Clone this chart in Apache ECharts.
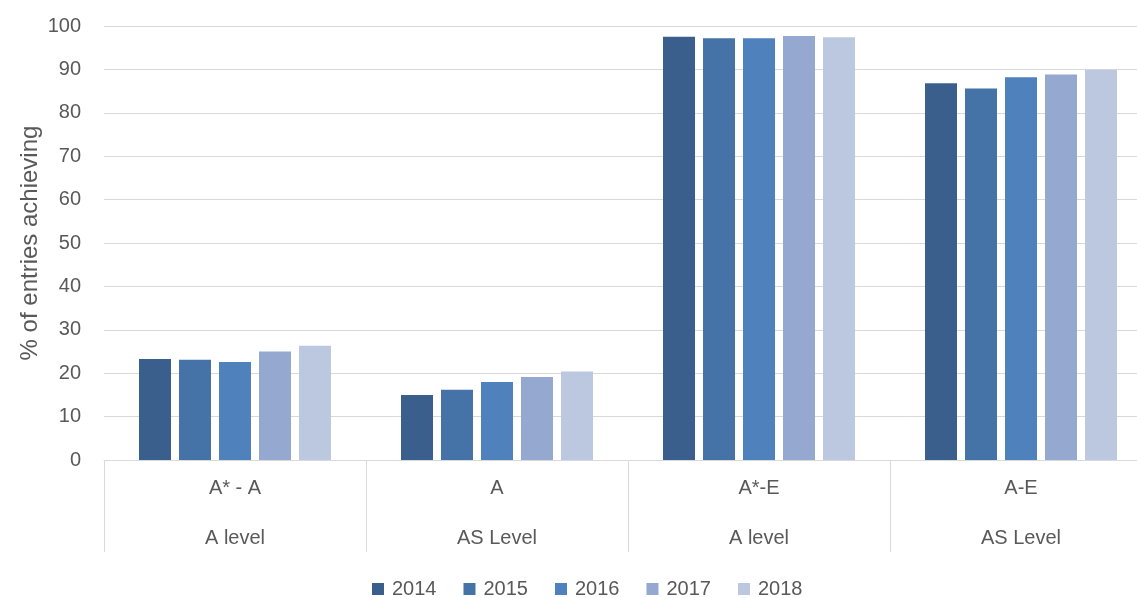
<!DOCTYPE html>
<html>
<head>
<meta charset="utf-8">
<script src="https://cdn.jsdelivr.net/npm/echarts@6/dist/echarts.min.js"></script>
<style>
html,body{margin:0;padding:0;background:#fff;overflow:hidden;width:1137px;height:598px;}
#c{width:1162px;height:598px;}
</style>
</head>
<body>
<div id="c"></div>
<script>
const categories = ['A* - A', 'A', 'A*-E', 'A-E'];
const groups = ['A level', 'AS Level', 'A level', 'AS Level'];
const years = ['2014', '2015', '2016', '2017', '2018'];
const s2014 = [23.3, 15.0, 97.5, 86.8];
const s2015 = [23.1, 16.2, 97.2, 85.6];
const s2016 = [22.6, 18.0, 97.2, 88.2];
const s2017 = [25.0, 19.1, 97.7, 88.8];
const s2018 = [26.3, 20.4, 97.4, 89.9];
const seriesValues = [s2014, s2015, s2016, s2017, s2018];
const colors = ['#3b5f8d', '#4573a7', '#4f81bd', '#95a9d0', '#bcc8e0'];

const font = 'Liberation Sans, Arial, sans-serif';
const chart = echarts.init(document.getElementById('c'), null, {renderer: 'canvas'});
chart.setOption({
  animation: false,
  textStyle: {fontFamily: font},
  grid: {left: 104, top: 26, right: 10, bottom: 138, containLabel: false},
  legend: {
    data: years,
    top: 574,
    left: 367,
    itemWidth: 12,
    itemHeight: 12,
    itemGap: 27,
    icon: 'rect',
    textStyle: {fontFamily: font, fontSize: 20, color: '#595959', padding: [0, 0, 0, 3]}
  },
  xAxis: [
    {
      type: 'category',
      data: categories,
      position: 'bottom',
      axisLine: {show: true, lineStyle: {color: '#d9d9d9', width: 1}},
      axisTick: {show: true, length: 92, lineStyle: {color: '#d9d9d9', width: 1}},
      axisLabel: {margin: 18, fontSize: 20, color: '#595959', fontFamily: font},
      splitLine: {show: false}
    },
    {
      type: 'category',
      data: groups,
      position: 'bottom',
      axisLine: {show: false},
      axisTick: {show: false},
      axisLabel: {margin: 68, fontSize: 20, color: '#595959', fontFamily: font},
      splitLine: {show: false}
    }
  ],
  yAxis: {
    type: 'value',
    min: 0,
    max: 100,
    interval: 10,
    name: '% of entries achieving',
    nameLocation: 'middle',
    nameGap: 62,
    nameMoveOverlap: false,
    nameRotate: 90,
    nameTextStyle: {fontSize: 24, color: '#595959', fontFamily: font},
    axisLine: {show: false},
    axisTick: {show: false},
    axisLabel: {margin: 23, fontSize: 20, color: '#595959', fontFamily: font},
    splitLine: {lineStyle: {color: '#d9d9d9', width: 1}}
  },
  series: years.map((y, i) => ({
    name: y,
    type: 'bar',
    xAxisIndex: 0,
    data: seriesValues[i],
    barWidth: 32,
    barGap: '25%',
    itemStyle: {color: colors[i]}
  }))
});
</script>
</body>
</html>
